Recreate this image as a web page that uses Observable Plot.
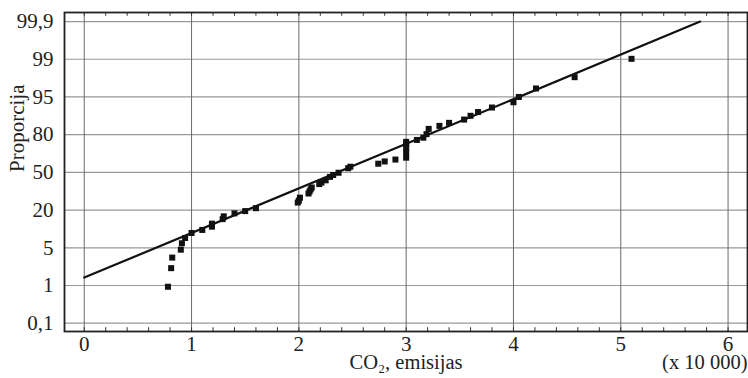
<!DOCTYPE html>
<html>
<head>
<meta charset="utf-8">
<script src="https://cdn.jsdelivr.net/npm/d3@7"></script>
<script src="https://cdn.jsdelivr.net/npm/@observablehq/plot@0.6"></script>
<style>
  html, body { margin: 0; padding: 0; background: #fff; }
</style>
</head>
<body>
<div id="chart"></div>
<script>
// CO2 emissions (in units of 10 000) and cumulative proportion (%)
const emissions = [0.78, 0.81, 0.82, 0.90, 0.91, 0.94, 1.00, 1.10, 1.19, 1.19, 1.29, 1.30, 1.40, 1.50, 1.60,
  1.99, 2.00, 2.01, 2.09, 2.10, 2.11, 2.12, 2.19, 2.21, 2.25, 2.29, 2.32, 2.37, 2.46, 2.48,
  2.74, 2.80, 2.90, 3.00, 3.00, 3.00, 3.00, 3.00, 3.10, 3.16, 3.19, 3.21, 3.31, 3.40, 3.54,
  3.60, 3.67, 3.80, 4.00, 4.05, 4.21, 4.57, 5.10];
const proportions = [0.97, 2.84, 3.96, 4.8, 6.8, 8.9, 10.9, 12.1, 13.4, 14.6, 16.4, 17.5, 18.7, 19.6, 21.5,
  26, 27.5, 29.9, 33.2, 34.8, 36.5, 38, 40.7, 41.9, 43.7, 46.4, 47.9, 49.7, 53.3, 54.5,
  56.9, 58.7, 60.2, 61.7, 65.6, 69.5, 72.5, 74.3, 75.8, 77.6, 80.2, 82.3, 83.5, 84.7, 86,
  87.5, 89, 90.8, 92.9, 95, 95.9, 97.1, 99.01];
// fitted normal line endpoints
const fitX = [0, 5.74];
const fitP = [1.84, 99.9];
// axis ticks
const yTickValues = [0.1, 1, 5, 20, 50, 80, 95, 99, 99.9];
const xTickValues = [0, 1, 2, 3, 4, 5, 6];

// position on the probability axis (ticks evenly spaced)
const probPos = p => {
  let i = d3.bisectRight(yTickValues, p) - 1;
  i = Math.max(0, Math.min(yTickValues.length - 2, i));
  return i + (p - yTickValues[i]) / (yTickValues[i + 1] - yTickValues[i]);
};

const points = emissions.map((x, i) => ({x, p: proportions[i]}));
const fit = fitX.map((x, i) => ({x, p: fitP[i]}));
const yIdx = yTickValues.map((v, i) => i);
const minor = d3.range(0, 31).map(i => i * 0.2);
const yMin = -0.22, yMax = 8.24;

const chart = Plot.plot({
  width: 748,
  height: 378,
  marginLeft: 64,
  marginRight: 1,
  marginTop: 12,
  marginBottom: 47,
  style: {fontFamily: "'Liberation Serif', 'Times New Roman', serif", fontSize: "21px", color: "#222", background: "#fff", overflow: "visible"},
  x: {domain: [-0.184, 6.181], ticks: xTickValues, tickSize: 0, tickPadding: 5, tickFormat: d => String(d), label: null},
  y: {domain: [yMin, yMax], ticks: yIdx, tickSize: 0, tickPadding: 11, tickFormat: i => String(yTickValues[i]).replace(".", ","), label: null},
  marks: [
    Plot.ruleY(yIdx, {stroke: "#999", strokeWidth: 1.2}),
    Plot.ruleX(xTickValues, {stroke: "#6a6a6a", strokeWidth: 1}),
    Plot.ruleX(minor, {x: d => d, y1: yMin, y2: yMin + 0.1, stroke: "#333", strokeWidth: 1}),
    Plot.ruleX(minor, {x: d => d, y1: yMax, y2: yMax - 0.1, stroke: "#333", strokeWidth: 1}),
    Plot.line(fit, {x: "x", y: d => probPos(d.p), stroke: "#111", strokeWidth: 2.2}),
    Plot.dot(points, {x: "x", y: d => probPos(d.p), symbol: "square", r: 3.4, fill: "#111", stroke: "none"}),
    Plot.frame({stroke: "#222", strokeWidth: 1.8}),
    Plot.text(["CO₂, emisijas"], {frameAnchor: "bottom", dy: 37, fontSize: 20.5, fill: "#222"}),
    Plot.text(["(x 10 000)"], {frameAnchor: "bottom-right", textAnchor: "end", dy: 37, dx: 0, fontSize: 20.5, fill: "#222"}),
    Plot.text(["Proporcija"], {frameAnchor: "left", dx: -47, rotate: -90, fontSize: 21, fill: "#222"})
  ]
});
document.getElementById("chart").appendChild(chart);
</script>
</body>
</html>
